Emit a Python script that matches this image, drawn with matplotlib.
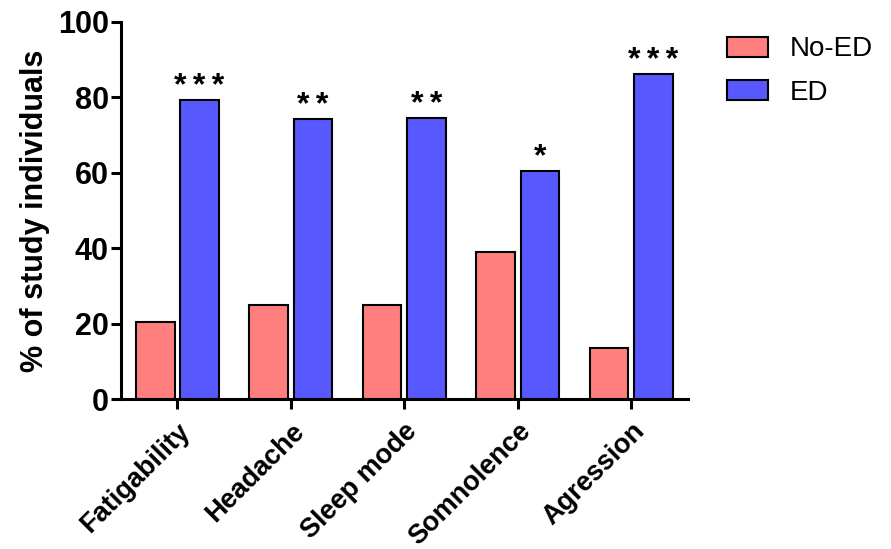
import matplotlib
matplotlib.use("Agg")
import matplotlib.pyplot as plt
from matplotlib.transforms import ScaledTranslation
import numpy as np

categories = ["Fatigability", "Headache", "Sleep mode", "Somnolence", "Agression"]
no_ed = [20.4, 25.0, 25.1, 38.9, 13.5]
ed = [79.2, 74.2, 74.5, 60.5, 86.1]
signif = ["***", "**", "**", "*", "***"]
yticks = [0, 20, 40, 60, 80, 100]

plt.rcParams['font.family'] = ['Liberation Sans', 'DejaVu Sans']

fig = plt.figure(figsize=(8.91, 5.49), dpi=100)
ax = fig.add_axes([0.1355, 0.2727, 0.772 - 0.1355, 0.9605 - 0.2727])

x = np.arange(len(categories))
w = 0.34
off = 0.195
ax.bar(x - off, no_ed, w, color="#FF7F7F", edgecolor="black", linewidth=1.5, label="No-ED")
ax.bar(x + off, ed, w, color="#5858FF", edgecolor="black", linewidth=1.5, label="ED")
for xi, v, s in zip(x, ed, signif):
    ax.text(xi + off, v + 1.4, "\u2009".join(s), ha="center", va="baseline",
            fontsize=23, fontweight="bold")

ax.set_xlim(-0.5, 4.5)
ax.set_ylim(0, 100)
ax.set_yticks(yticks)
ax.set_xticks(x)
ax.set_xticklabels(categories, rotation=45, ha="right", rotation_mode="anchor",
                   fontsize=19.5, fontweight="bold")
shift = ScaledTranslation(-10 / 100, -10 / 100, fig.dpi_scale_trans)
for lbl in ax.get_xticklabels():
    lbl.set_transform(lbl.get_transform() + shift)
for lbl in ax.get_yticklabels():
    lbl.set_fontsize(22)
    lbl.set_fontweight("bold")
ax.set_ylabel("% of study individuals", fontsize=22, fontweight="bold", labelpad=6)
for sp in ["top", "right"]:
    ax.spines[sp].set_visible(False)
for sp in ["left", "bottom"]:
    ax.spines[sp].set_linewidth(2.2)
ax.tick_params(axis="both", width=2.2, length=7.5, direction="out")
ax.tick_params(axis="y", pad=1)
ax.tick_params(axis="x", pad=6)

leg = ax.legend(loc="upper left", bbox_to_anchor=(1.069, 0.961), frameon=False,
                fontsize=20, handlelength=1.47, handleheight=0.72, handletextpad=0.8,
                labelspacing=0.62, borderpad=0, borderaxespad=0)
for p in leg.get_patches():
    p.set_linewidth(1.5)
fig.savefig("out.png", dpi=100)
